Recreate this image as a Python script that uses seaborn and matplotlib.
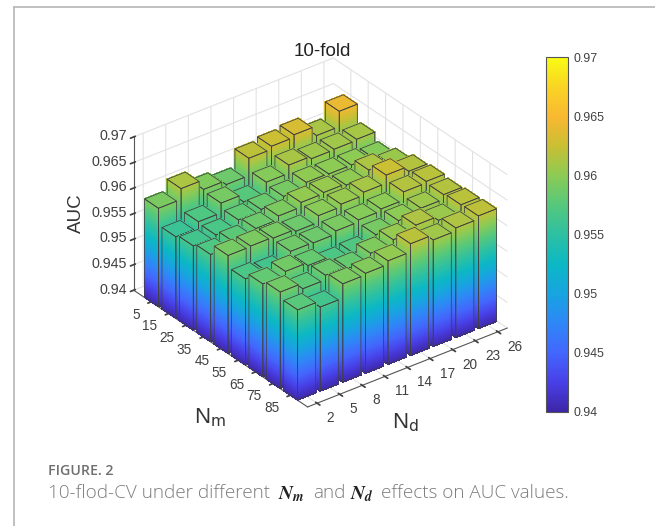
import numpy as np
import matplotlib
matplotlib.use('Agg')
import matplotlib.pyplot as plt
import seaborn as sns
from matplotlib.colors import Normalize
from matplotlib.cm import ScalarMappable
from mpl_toolkits.mplot3d.art3d import Poly3DCollection

# tick labels
nm_labels = ['5', '15', '25', '35', '45', '55', '65', '75', '85']
nd_labels = ['2', '5', '8', '11', '14', '17', '20', '23', '26']
auc_ticks = [0.94, 0.945, 0.95, 0.955, 0.96, 0.965, 0.97]
auc_tick_labels = ['0.94', '0.945', '0.95', '0.955', '0.96', '0.965', '0.97']

# AUC per Nd value (2..26), one list per Nm value
auc_nm5 = [0.9592, 0.9613, 0.9594, 0.9586, 0.9620, 0.9626, 0.9631, 0.9612, 0.9642]
auc_nm15 = [0.9559, 0.9571, 0.9590, 0.9575, 0.9596, 0.9612, 0.9607, 0.9608, 0.9610]
auc_nm25 = [0.9564, 0.9568, 0.9580, 0.9583, 0.9591, 0.9601, 0.9600, 0.9600, 0.9596]
auc_nm35 = [0.9570, 0.9578, 0.9586, 0.9593, 0.9602, 0.9604, 0.9601, 0.9613, 0.9606]
auc_nm45 = [0.9591, 0.9592, 0.9590, 0.9586, 0.9599, 0.9604, 0.9610, 0.9626, 0.9616]
auc_nm55 = [0.9568, 0.9564, 0.9587, 0.9586, 0.9592, 0.9596, 0.9600, 0.9616, 0.9619]
auc_nm65 = [0.9581, 0.9588, 0.9582, 0.9569, 0.9572, 0.9590, 0.9600, 0.9607, 0.9616]
auc_nm75 = [0.9588, 0.9577, 0.9586, 0.9582, 0.9594, 0.9603, 0.9614, 0.9606, 0.9619]
auc_nm85 = [0.9576, 0.9564, 0.9592, 0.9595, 0.9602, 0.9618, 0.9608, 0.9614, 0.9620]

auc = np.array([auc_nm5, auc_nm15, auc_nm25, auc_nm35, auc_nm45,
                auc_nm55, auc_nm65, auc_nm75, auc_nm85])

sns.set_theme(style='white')
plt.rcParams['font.family'] = ['Liberation Sans', 'DejaVu Sans']
plt.rcParams['mathtext.fontset'] = 'stix'
plt.rcParams['grid.color'] = '#e2e2e2'
plt.rcParams['grid.linewidth'] = 0.8
plt.rcParams['axes.edgecolor'] = '#555555'
plt.rcParams['axes.linewidth'] = 0.8
plt.rcParams['xtick.color'] = '#404040'
plt.rcParams['ytick.color'] = '#404040'

# parula-like colormap
parula = sns.blend_palette(['#3E26A8', '#4840E8', '#4367FD', '#2E87F7', '#17A4E0',
                            '#0CB8C4', '#2DC0A2', '#55C87C', '#8CCB54', '#C9BF34',
                            '#F9B831', '#F9D424', '#F9FB15'], n_colors=256, as_cmap=True)
norm = Normalize(0.94, 0.97)

W, H = 655, 526
fig = plt.figure(figsize=(W / 100, H / 100), dpi=100)

def box(x0, y0, x1, y1):
    return [x0 / W, 1 - y1 / H, (x1 - x0) / W, (y1 - y0) / H]

ax = fig.add_axes(box(110.8, 33.8, 519.2, 442.2), projection='3d', proj_type='ortho',
                  computed_zorder=False)
ax.view_init(elev=31, azim=-37.5)
ax.set_box_aspect((286, 252, 179), zoom=1.0)

bar_w = 0.8
levels = np.arange(0.94, 0.9701, 0.0004)
clear = (0, 0, 0, 0)

for i in range(9):
    for j in range(9):
        v = auc[i, j]
        x0, x1 = i - bar_w / 2, i + bar_w / 2
        y0, y1 = j - bar_w / 2, j + bar_w / 2
        zs = np.append(levels[levels < v], v)
        polys, cols = [], []
        for z0, z1 in zip(zs[:-1], zs[1:]):
            c = parula(norm((z0 + z1) / 2))
            polys.append([(x1, y0, z0), (x1, y1, z0), (x1, y1, z1), (x1, y0, z1)])
            polys.append([(x0, y0, z0), (x1, y0, z0), (x1, y0, z1), (x0, y0, z1)])
            cols += [c, c]
        top = [(x0, y0, v), (x1, y0, v), (x1, y1, v), (x0, y1, v)]
        polys.append(top)
        cols.append(parula(norm(v)))
        # back bars first: Nm low and Nd high are furthest away
        order = 10 + (i - j) * 2
        strips = Poly3DCollection(polys, facecolors=cols, edgecolors=cols,
                                  linewidths=0.6, antialiaseds=False, zorder=order)
        ax.add_collection3d(strips, autolim=False)
        side_a = [(x1, y0, 0.94), (x1, y1, 0.94), (x1, y1, v), (x1, y0, v)]
        side_b = [(x0, y0, 0.94), (x1, y0, 0.94), (x1, y0, v), (x0, y0, v)]
        outline = Poly3DCollection([top, side_a, side_b], facecolors=[clear] * 3,
                                   edgecolors=['#404040'] * 3, linewidths=0.55, zorder=order + 1)
        ax.add_collection3d(outline, autolim=False)

ax.set_xlim(-1, 9, view_margin=0)
ax.set_ylim(-0.42, 8.42, view_margin=0)
ax.set_zlim(0.94, 0.97, view_margin=0)
ax.set_xticks(range(9), nm_labels)
ax.set_yticks(range(9), nd_labels)
ax.set_zticks(auc_ticks, auc_tick_labels)
ax.tick_params(axis='both', labelsize=9.8, pad=0.5, colors='#404040')
ax.tick_params(axis='z', labelsize=10.3, pad=-5.4)
ax.zaxis.set_ticks_position('lower')
for axis in (ax.xaxis, ax.yaxis, ax.zaxis):
    axis.set_pane_color((1, 1, 1, 1))
    axis.pane.set_edgecolor('none')
    axis.set_tick_params(labelcolor='#404040')
for t in ax.get_xticklabels():
    t.set_ha('right')
    t.set_va('center')
for t in ax.get_yticklabels():
    t.set_ha('left')
    t.set_va('center')
for t in ax.get_zticklabels():
    t.set_ha('right')
    t.set_va('center')

fig.text(322 / W, 1 - 52 / H, '10-fold', ha='center', va='center', fontsize=13.5, color='#222222')
fig.text(76 / W, 1 - 213 / H, 'AUC', ha='center', va='center', rotation=90, fontsize=13.5, color='#333333')
plt.rcParams['mathtext.default'] = 'regular'
fig.text(210 / W, 1 - 418 / H, r'N$_{\mathrm{m}}$', ha='center', va='center', fontsize=16, color='#333333',
         math_fontfamily='dejavusans')
fig.text(405 / W, 1 - 423 / H, r'N$_{\mathrm{d}}$', ha='center', va='center', fontsize=16, color='#333333',
         math_fontfamily='dejavusans')

# colorbar
cax = fig.add_axes(box(545.5, 57, 567.5, 412))
cb = fig.colorbar(ScalarMappable(norm=norm, cmap=parula), cax=cax)
cb.set_ticks(auc_ticks, labels=auc_tick_labels)
cb.ax.tick_params(direction='in', length=3.5, width=0.7, labelsize=8.9, pad=4, colors='#404040')
cb.outline.set_edgecolor('#555555')
cb.outline.set_linewidth(0.8)

# card border
fig.add_artist(plt.Line2D([14 / W, 14 / W], [0, 1 - 6.5 / H], color='#b5b5b5', lw=1.2))
fig.add_artist(plt.Line2D([14 / W, 1], [1 - 6.5 / H, 1 - 6.5 / H], color='#b5b5b5', lw=1.2))

# caption
fig.text(48 / W, 1 - 471 / H, 'FIGURE. 2', family='Open Sans', weight='semibold', fontsize=10.2,
         color='#6f6f6f', va='center')
fig.text(48 / W, 1 - 493 / H, '10-flod-CV under different', family='Open Sans', weight='light',
         fontsize=13.6, color='#7c7c7c', va='center')
fig.text(278 / W, 1 - 494 / H, r'$\mathbfit{N_m}$', fontsize=14, color='#222222', va='center')
fig.text(313 / W, 1 - 493 / H, 'and', family='Open Sans', weight='light', fontsize=13.6,
         color='#7c7c7c', va='center')
fig.text(350 / W, 1 - 494 / H, r'$\mathbfit{N_d}$', fontsize=14, color='#222222', va='center')
fig.text(381 / W, 1 - 493 / H, 'effects on AUC values.', family='Open Sans', weight='light',
         fontsize=13.6, color='#7c7c7c', va='center')

fig.savefig('out.png', dpi=100)
